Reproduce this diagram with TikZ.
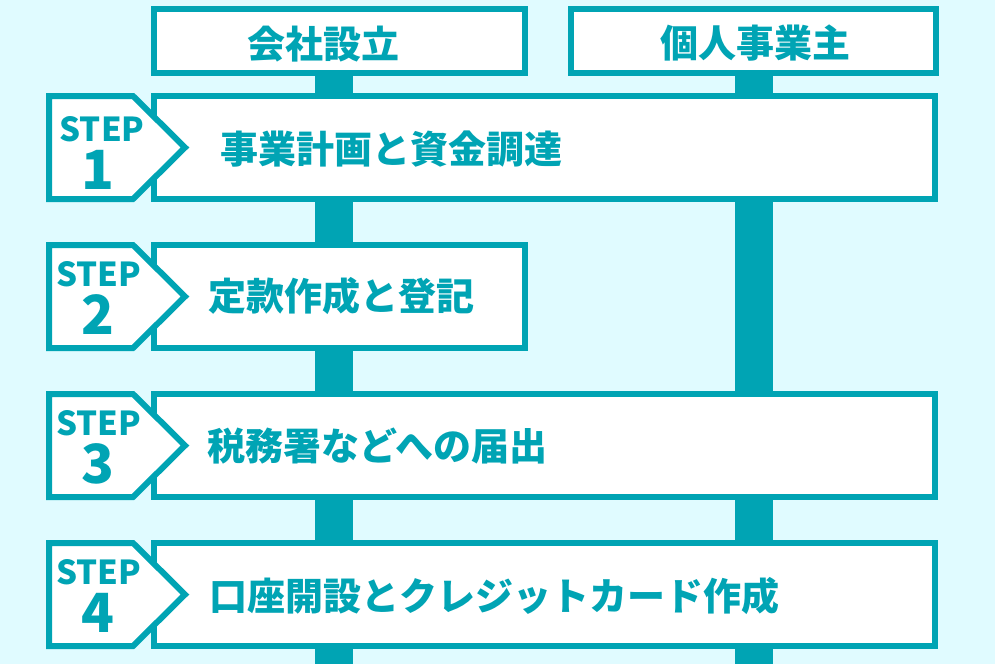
\documentclass[tikz,border=0pt]{standalone}
\usepackage{fontspec}
\newfontfamily\jp{Noto Sans CJK JP}
\definecolor{teal0}{RGB}{0,164,180}
\definecolor{bgc}{RGB}{224,251,255}
\pgfdeclarelayer{back}
\pgfsetlayers{back,main}
\tikzset{
  box/.style={draw=teal0, fill=white, line width=6pt, minimum width=781pt, minimum height=103pt, inner sep=0pt},
  hdr/.style={box, minimum width=371pt, minimum height=64pt},
  lbl/.style={text=teal0, font=\jp\bfseries\fontsize{38}{38}\selectfont, inner sep=0pt, anchor=base west},
  steptxt/.style={text=teal0, font=\jp\bfseries\fontsize{33}{33}\selectfont, inner sep=0pt, anchor=base},
  numtxt/.style={text=teal0, font=\jp\bfseries\fontsize{54}{54}\selectfont, inner sep=0pt, anchor=base},
  bar/.style={draw=teal0, line width=38pt},
  badge/.style={draw=teal0, fill=white, line width=6pt, line join=miter},
}
% #1 index, #2 outer top, #3 STEP dx, #4 dy, #5 number
\newcommand\mystep[5]{%
  \draw[badge] (49,#2+3) -- (133,#2+3) -- (185,#2+54.5) -- (133,#2+106) -- (49,#2+106) -- cycle;
  \node[steptxt] (st#1) at (98.5+#3,#2+44+#4) {STEP};
  \node[numtxt] (num#1) at (98,#2+92+#4) {#5};
}
\begin{document}
\begin{tikzpicture}[x=1pt,y=-1pt]
\useasboundingbox (0,0) rectangle (995,664);
\begin{pgfonlayer}{back}
  \fill[bgc] (0,0) rectangle (995,664);
\end{pgfonlayer}
% headers
\node[hdr] (hL) at (339.5,41) {};
\node[hdr, minimum width=365pt] (hR) at (753.5,41) {};
\node[lbl, anchor=base] (hLt) at (323,58.4) {会社設立};
\node[lbl, anchor=base] (hRt) at (755,57.9) {個人事業主};
% step boxes
\node[box] (s1) at (544.5,147.5) {};
\node[box, minimum width=371pt] (s2) at (339.5,296.5) {};
\node[box] (s3) at (544.5,445.5) {};
\node[box] (s4) at (544.5,594.5) {};
% bars
\coordinate (botL) at (334,664);
\coordinate (botR) at (753.5,664);
\begin{pgfonlayer}{back}
  \draw[bar] (botL |- hL.south) -- (botL);
  \draw[bar] (hR.south) -- (botR);
\end{pgfonlayer}
% badges
\mystep{1}{93}{3.5}{4}{1}
\mystep{2}{242}{0}{0}{2}
\mystep{3}{391}{0}{0}{3}
\mystep{4}{540}{0}{0}{4}
% texts
\node[lbl] (t1) at (220,163.4) {事業計画と資金調達};
\node[lbl] (t2) at (208,310.9) {定款作成と登記};
\node[lbl] (t3) at (207,460.9) {税務署などへの届出};
\node[lbl] (t4) at (209,610.4) {口座開設とクレジットカード作成};
\end{tikzpicture}
\end{document}
